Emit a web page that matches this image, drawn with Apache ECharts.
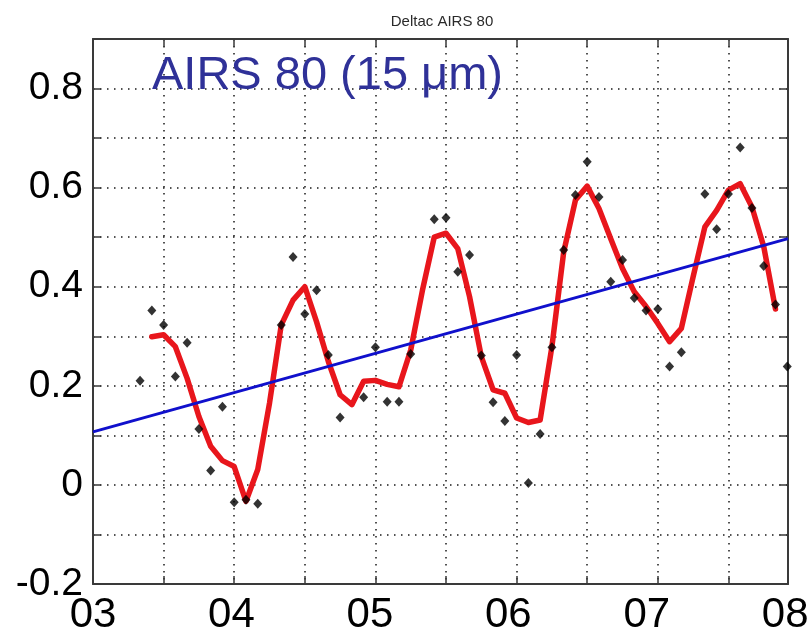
<!DOCTYPE html>
<html>
<head>
<meta charset="utf-8">
<title>Deltac AIRS 80</title>
<script src="https://cdn.jsdelivr.net/npm/echarts@6/dist/echarts.min.js"></script>
<style>
  html, body { margin: 0; padding: 0; background: #fff; overflow: hidden; }
  #chart { width: 809px; height: 630px; }
</style>
</head>
<body>
<div id="chart"></div>
<script>
// Monthly anomalies, month index counted from January 2003
const scatterMonths = [4,5,6,7,8,9,10,11,12,13,14,16,17,18,19,20,21,23,24,25,26,27,29,30,31,32,33,34,35,36,37,38,39,40,41,42,43,44,45,46,47,48,49,50,52,53,54,55,56,57,58,59];
const scatterValues = [0.210,0.352,0.323,0.219,0.287,0.113,0.029,0.158,-0.035,-0.030,-0.038,0.323,0.460,0.345,0.393,0.262,0.136,0.177,0.278,0.168,0.168,0.264,0.536,0.539,0.430,0.464,0.261,0.167,0.129,0.262,0.004,0.103,0.278,0.474,0.585,0.652,0.581,0.410,0.454,0.377,0.352,0.355,0.239,0.268,0.587,0.516,0.587,0.681,0.559,0.442,0.364,0.239];

// Smoothed curve, months 5..58
const smoothStartMonth = 5;
const smoothValues = [0.299,0.303,0.279,0.215,0.138,0.078,0.049,0.037,-0.033,0.031,0.165,0.323,0.373,0.400,0.329,0.249,0.182,0.162,0.209,0.211,0.203,0.198,0.272,0.393,0.500,0.508,0.477,0.380,0.259,0.192,0.185,0.135,0.126,0.131,0.279,0.470,0.575,0.603,0.558,0.497,0.437,0.390,0.360,0.326,0.289,0.316,0.420,0.521,0.554,0.595,0.608,0.561,0.481,0.355];

// Linear trend end points (decimal year, value)
const trendYears = [2003, 2007.922];
const trendValues = [0.107, 0.497];

// Year tick labels
const yearLabels = ['03','04','05','06','07','08'];

const X_MIN = 2003, X_MAX = 2007.922;
const toYear = m => 2003 + m / 12;

const scatterData = scatterMonths.map((m, i) => [toYear(m), scatterValues[i]]);
const smoothData = smoothValues.map((v, i) => [toYear(smoothStartMonth + i), v]);
const trendData = trendYears.map((y, i) => [y, trendValues[i]]);

const frameColor = '#3a3a3a';
const gridDots = { color: '#1a1a1a', width: 1.5, type: [1.5, 5.5] };

const chart = echarts.init(document.getElementById('chart'), null, { renderer: 'canvas' });
chart.setOption({
  animation: false,
  backgroundColor: '#fff',
  title: {
    text: 'Deltac AIRS 80',
    left: 437, top: 9, textAlign: 'center',
    textStyle: { fontFamily: 'Liberation Sans, Arial, sans-serif', fontSize: 15, fontWeight: 'normal', color: '#2a2a2a' }
  },
  graphic: [{
    type: 'text', x: 152, y: 76, z: 10,
    style: {
      text: 'AIRS 80 (15 \u03bcm)',
      fill: '#2f3198',
      font: '47px "Liberation Sans", Arial, sans-serif',
      align: 'left', verticalAlign: 'middle'
    }
  }],
  grid: { left: 93, right: 21, top: 39, bottom: 46, containLabel: false, outerBoundsMode: 'none' },
  xAxis: [
    {
      type: 'value', position: 'bottom', min: X_MIN, max: X_MAX, interval: 0.5,
      axisLine: { show: true, onZero: false, lineStyle: { color: frameColor, width: 2 } },
      axisTick: { show: true, inside: true, length: 8, lineStyle: { color: frameColor, width: 1.5 } },
      axisLabel: { show: false },
      splitLine: { show: true, lineStyle: gridDots }
    },
    {
      type: 'value', position: 'bottom', min: 0, max: 5.02, interval: 1,
      axisLine: { show: false }, axisTick: { show: false }, splitLine: { show: false },
      axisLabel: {
        show: true, margin: 10, color: '#000', fontSize: 42,
        fontFamily: 'Liberation Sans, Arial, sans-serif',
        formatter: v => yearLabels[Math.round(v)] || ''
      }
    },
    {
      type: 'value', position: 'top', min: X_MIN, max: X_MAX, interval: 0.5,
      axisLine: { show: true, onZero: false, lineStyle: { color: frameColor, width: 2 } },
      axisTick: { show: true, inside: true, length: 8, lineStyle: { color: frameColor, width: 1.5 } },
      axisLabel: { show: false }, splitLine: { show: false }
    }
  ],
  yAxis: [
    {
      type: 'value', position: 'left', min: -0.2, max: 0.9, interval: 0.1,
      axisLine: { show: true, onZero: false, lineStyle: { color: frameColor, width: 2 } },
      axisTick: { show: true, inside: true, length: 8, lineStyle: { color: frameColor, width: 1.5 } },
      splitLine: { show: true, lineStyle: gridDots },
      axisLabel: {
        show: true, margin: 10, color: '#000', fontSize: 39,
        fontFamily: 'Liberation Sans, Arial, sans-serif',
        formatter: v => {
          const t = Math.round(v * 10);
          if (t % 2 !== 0 || t > 8) return '';
          return t === 0 ? '0' : (t / 10).toFixed(1);
        }
      }
    },
    {
      type: 'value', position: 'right', min: -0.2, max: 0.9, interval: 0.1,
      axisLine: { show: true, onZero: false, lineStyle: { color: frameColor, width: 2 } },
      axisTick: { show: true, inside: true, length: 8, lineStyle: { color: frameColor, width: 1.5 } },
      axisLabel: { show: false }, splitLine: { show: false }
    }
  ],
  series: [
    {
      name: 'smoothed', type: 'line', xAxisIndex: 0, yAxisIndex: 0,
      data: smoothData, showSymbol: false, symbol: 'none', z: 3,
      lineStyle: { color: '#e8161c', width: 5.5, join: 'round', cap: 'round' }
    },
    {
      name: 'trend', type: 'line', xAxisIndex: 0, yAxisIndex: 0,
      data: trendData, showSymbol: false, symbol: 'none', z: 4,
      lineStyle: { color: '#1010cc', width: 3 }
    },
    {
      name: 'monthly', type: 'scatter', xAxisIndex: 0, yAxisIndex: 0,
      data: scatterData, symbol: 'diamond', symbolSize: [9, 10], z: 5,
      itemStyle: { color: '#000' }
    }
  ]
});
</script>
</body>
</html>
